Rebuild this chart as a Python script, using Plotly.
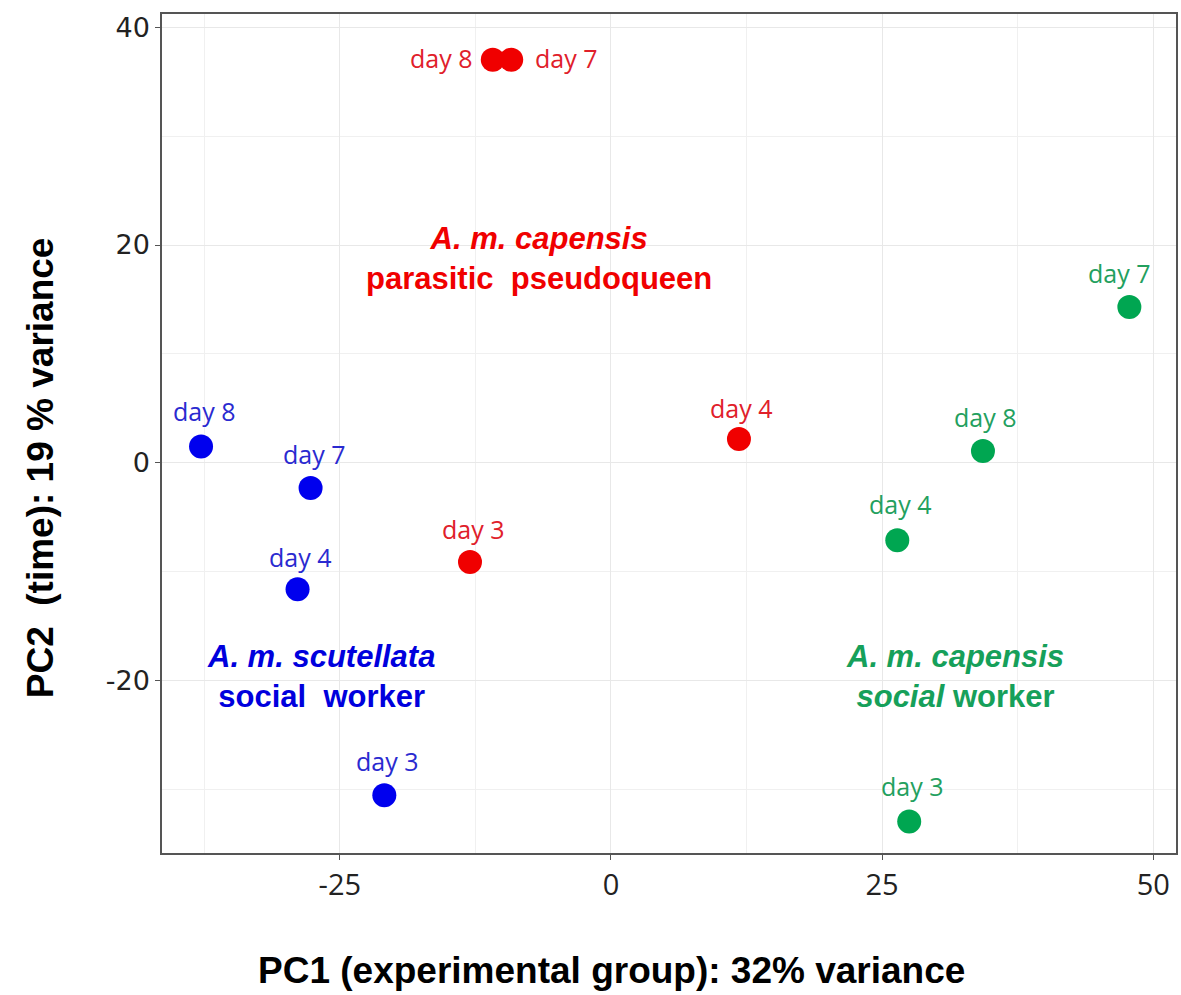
import plotly.graph_objects as go

# Data
blue_x = [-37.8, -27.7, -28.9, -20.9]
blue_y = [1.5, -2.3, -11.6, -30.5]
blue_lbl = ["day 8", "day 7", "day 4", "day 3"]

red_x = [-10.9, -9.2, 11.8, -13.0]
red_y = [37.0, 37.0, 2.2, -9.1]
red_lbl = ["day 8", "day 7", "day 4", "day 3"]

green_x = [47.8, 34.3, 26.4, 27.5]
green_y = [14.3, 1.1, -7.1, -32.9]
green_lbl = ["day 7", "day 8", "day 4", "day 3"]

x_ticks = [-25, 0, 25, 50]
x_ticktext = ["-25", "0", "25", "50"]
y_ticks = [-20, 0, 20, 40]
y_ticktext = ["-20", "0", "20", "40"]

BLUE = "#0000ee"
RED = "#f00000"
GREEN = "#00a651"
LBLFONT = "Open Sans, sans-serif"
GF = "Liberation Sans, Arial, sans-serif"

W, H = 1181, 995
L, R, T, B = 162, 3, 14, 142

fig = go.Figure()
groups = [
    (blue_x, blue_y, blue_lbl, BLUE, "#2a2ad0"),
    (red_x, red_y, red_lbl, RED, "#e0202a"),
    (green_x, green_y, green_lbl, GREEN, "#23a05e"),
]
for gx, gy, gl, mc, tc in groups:
    fig.add_trace(go.Scatter(x=gx, y=gy, mode="markers",
                             marker=dict(size=24, color=mc), hoverinfo="skip"))

# label placement (style only): (xanchor, xshift, yshift)
place = {
    (0, 0): ("center", 3, 36), (0, 1): ("center", 4, 34), (0, 2): ("center", 3, 32), (0, 3): ("center", 3, 34),
    (1, 0): ("right", -18, 2), (1, 1): ("left", 22, 2), (1, 2): ("center", 3, 31), (1, 3): ("center", 3, 33),
    (2, 0): ("center", -10, 34), (2, 1): ("center", 3, 34), (2, 2): ("center", 3, 36), (2, 3): ("center", 3, 35),
}
for gi, (gx, gy, gl, mc, tc) in enumerate(groups):
    for i in range(len(gx)):
        xa, xs, ys = place[(gi, i)]
        fig.add_annotation(x=gx[i], y=gy[i], xref="x", yref="y", text=gl[i],
                           showarrow=False, xanchor=xa, yanchor="middle",
                           xshift=xs, yshift=ys,
                           font=dict(family=LBLFONT, size=25, color=tc))

fig.add_annotation(x=-6.6, y=18.8, xref="x", yref="y", showarrow=False,
                   text="<b><i>A. m. capensis</i></b><br><b>parasitic  pseudoqueen</b>",
                   font=dict(family=GF, size=31, color=RED), align="center")
fig.add_annotation(x=-26.7, y=-19.6, xref="x", yref="y", showarrow=False,
                   text="<b><i>A. m. scutellata</i></b><br><b>social  worker</b>",
                   font=dict(family=GF, size=31, color="#0000dd"), align="center")
fig.add_annotation(x=31.7, y=-19.6, xref="x", yref="y", showarrow=False,
                   text="<b><i>A. m. capensis</i></b><br><b><i>social</i> worker</b>",
                   font=dict(family=GF, size=31, color="#16a05a"), align="center")

def px2paper(px, py):
    return (px - L) / (W - L - R), 1 - (py - T) / (H - T - B)

ax, ay = px2paper(40, 468)
fig.add_annotation(x=ax, y=ay, xref="paper", yref="paper", showarrow=False,
                   xanchor="center", yanchor="middle",
                   text="<b>PC2  (time): 19 % variance</b>", textangle=-90,
                   font=dict(family=GF, size=37, color="black"),
                   bgcolor="white")
ax, ay = px2paper(612, 970)
fig.add_annotation(x=ax, y=ay, xref="paper", yref="paper", showarrow=False,
                   xanchor="center", yanchor="middle",
                   text="<b>PC1 (experimental group): 32% variance</b>",
                   font=dict(family=GF, size=37, color="black"))

fig.update_layout(
    width=W, height=H,
    margin=dict(l=L, r=R, t=T, b=B),
    plot_bgcolor="white", paper_bgcolor="white",
    showlegend=False,
    font=dict(family="Open Sans, sans-serif", size=24, color="#222"),
)
fig.update_xaxes(range=[-41.4, 52.1], tickvals=x_ticks, ticktext=x_ticktext,
                 ticks="outside", ticklen=5,
                 tickcolor="#555", showline=True, linecolor="#555", linewidth=1.5,
                 mirror=True, gridcolor="#e8e8e8", gridwidth=1.2, zeroline=False,
                 minor=dict(dtick=12.5, tick0=0, showgrid=True, gridcolor="#f0f0f0", gridwidth=1),
                 tickfont=dict(family="Open Sans, sans-serif", size=29, color="#222"))
fig.update_yaxes(range=[-35.8, 41.2], tickvals=y_ticks, ticktext=y_ticktext,
                 ticks="outside", ticklen=5,
                 tickcolor="#555", showline=True, linecolor="#555", linewidth=1.5,
                 mirror=True, gridcolor="#e8e8e8", gridwidth=1.2, zeroline=False,
                 minor=dict(dtick=10, tick0=0, showgrid=True, gridcolor="#f0f0f0", gridwidth=1),
                 tickfont=dict(family="DejaVu Sans, sans-serif", size=27, color="#222"))

fig.write_html("out.html", config={"displayModeBar": False},
               post_script="document.body.style.margin='0';")
